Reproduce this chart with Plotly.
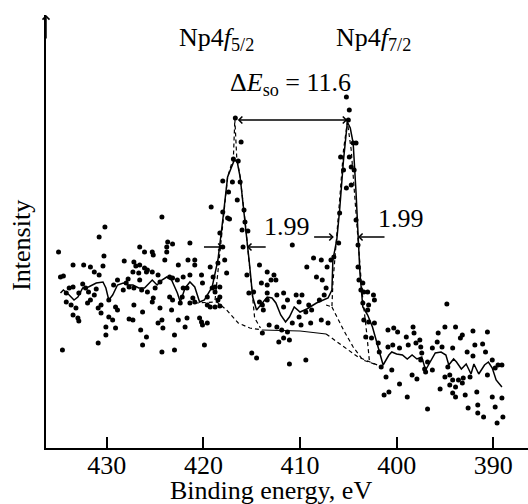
import plotly.graph_objects as go

# ---------------- data (binding energy in eV, intensity in arbitrary units) ----------------
dots_left = [(430.8,211),(430.2,221),(435.0,196),(430.3,192),(433.5,183),(432.4,183),(431.7,181),(430.4,182),
             (431.3,176),(430.8,173),(428.2,187),(427.2,186),(427.0,182),(427.3,176),(426.7,175),(434.8,171),
             (434.5,172),(428.9,168),(427.8,169),(429.3,163),(428.0,165),(433.5,161),(433.9,160),(432.5,164),
             (432.2,160),(431.9,156),(434.2,155),(432.9,155),(431.3,153),(431.1,159),(428.3,158),(427.7,161),
             (427.2,160),(434.2,146),(433.7,143),(433.2,140),(432.0,145),(431.7,148),(429.8,148),(429.1,141),
             (430.6,143),(430.9,140),(433.5,133),(433.0,130),(432.9,127),(430.6,135),(429.8,131),(429.4,128),
             (428.9,138),(427.7,129),(427.3,128),(427.2,143),(430.1,121),(429.1,120),(430.1,113),(426.5,118),
             (430.9,105),(434.6,98)]

dots_mid_left = [(424.3,231),(419.2,241),(418.0,236),(418.3,215),(417.5,230),(421.4,205),(423.7,206),(423.2,204),
                 (423.8,201),(423.8,196),(426.6,201),(426.1,196),(425.3,196),(425.2,193),(424.0,188),(421.6,188),
                 (420.9,188),(420.9,183),(422.6,183),(419.3,181),(418.5,185),(417.8,188),(417.6,175),(426.6,183),
                 (426.1,180),(425.8,178),(425.9,176),(425.3,176),(424.7,173),(423.5,171),(423.2,170),(422.1,171),
                 (421.4,173),(420.2,173),(426.6,168),(424.5,166),(425.0,160),(422.7,168),(421.7,160),(422.1,160),
                 (420.1,165),(419.1,160),(418.8,161),(426.4,158),(425.8,156),(425.2,150),(425.3,146),(423.5,151),
                 (423.2,148),(422.2,151),(421.1,150),(420.9,146),(421.4,145),(419.6,151),(418.3,151),(418.5,148),
                 (419.6,143),(419.3,141),(418.8,141),(418.3,142),(426.3,136),(424.5,140),(423.3,138),(422.4,145),
                 (420.4,130),(420.2,126),(420.1,123),(424.3,128),(424.7,125),(424.2,120),(422.6,128),(421.7,130),
                 (421.9,121),(423.0,113),(425.9,111),(426.3,103),(424.3,96),(423.0,98),(419.9,103),
                 (419.0,171),(418.3,161),(418.8,156),(419.6,125)]

dots_peak52 = [(416.7,330),(416.1,306),(416.9,289),(416.4,287),(418.0,267),(417.0,266),(416.2,266),(417.4,256),
               (416.5,248),(417.3,229),(415.8,238),(415.7,226),(416.0,218),(415.4,217),(415.5,173),(415.3,155),
               (414.8,156),(414.2,183),(413.4,176),(413.0,168),(412.7,173),(412.5,168),(414.0,165),(413.4,155),
               (412.4,153),(411.7,155),(410.8,203),(410.4,153),(409.8,153),(409.3,181),(408.6,190),(407.8,188),
               (408.3,171),(407.7,168),(407.3,160),(407.2,181),(406.8,188),(410.1,146),(409.1,143),(409.4,136),
               (408.8,138),(408.0,148),(407.5,153),(411.3,148),(411.7,141),(414.2,146),(413.9,143),(413.4,148),
               (413.2,123),(413.9,115),(412.4,121),(411.9,118),(411.3,116),(411.7,110),(412.2,106),(411.1,108),
               (410.1,131),(409.9,123),(408.9,125),(407.8,128),(410.8,125),(415.0,95),(414.5,90),(411.1,84),
               (409.4,88),(407.1,125),(418.0,201),(415.9,201),(413.4,163),(413.8,138)]

dots_peak72 = [(405.2,351),(404.9,338),(405.0,328),(404.5,305),(404.2,305),(405.8,291),(404.9,291),(405.5,278),
               (404.7,281),(404.4,278),(405.2,260),(404.7,263),(405.9,235),(404.2,228),(406.0,205),(404.0,203),
               (406.5,191),(404.0,181),(403.9,168),(403.7,158),(403.5,165),(403.4,156),(403.0,156),(402.4,153),
               (402.3,148),(403.5,145),(402.9,143),(403.0,138),(403.4,128),(402.9,126),(402.3,125),(403.2,111),
               (402.6,110),(401.9,105),(400.9,118),(400.3,120),(399.9,116),(398.3,121),(399.0,111),(398.2,115),
               (400.9,101),(400.4,103),(399.7,100),(398.8,103),(398.0,105),(397.5,101),(401.8,96),(401.6,81),
               (401.1,71),(400.5,78),(399.7,64),(401.3,53),(400.8,56),(398.9,51),(398.4,73),(397.9,69),
               (397.5,88),(397.1,79),(396.8,39)]

dots_right = [(394.8,144),(395.0,121),(393.9,121),(395.7,115),(392.1,117),(390.6,116),(393.2,113),(393.4,110),
              (391.9,103),(391.1,104),(394.2,100),(390.8,96),(392.7,96),(392.1,92),(397.6,108),(397.4,95),
              (395.8,106),(395.3,101),(396.3,100),(396.8,86),(397.0,76),(396.3,78),(390.1,88),(389.5,83),
              (389.1,83),(389.8,80),(394.7,81),(394.5,73),(395.0,71),(394.2,68),(393.6,68),(393.1,70),
              (392.4,71),(393.2,65),(390.6,73),(394.5,63),(393.9,61),(394.2,55),(393.9,51),(395.5,59),
              (392.9,53),(391.7,56),(390.1,51),(389.1,50),(389.8,41),(392.6,40),(391.6,43),(391.6,35),
              (391.0,31),(389.0,31),(389.6,25)]

# smoothed spectrum (solid line)
fit_energy = [434.8,434.5,433.9,433.4,433.0,432.5,431.9,431.1,430.4,430.1,429.8,429.4,428.9,428.3,427.8,427.3,
              426.7,426.1,425.3,424.8,424.3,423.8,423.3,422.7,422.4,421.9,421.4,420.9,420.4,419.9,419.1,418.5,
              418.0,417.5,416.8,416.5,416.2,415.7,415.2,414.9,414.5,413.9,413.4,412.9,412.5,412.0,411.5,411.1,
              410.6,410.0,409.3,408.3,407.1,406.7,406.6,406.2,405.9,405.5,405.1,404.8,404.5,404.2,404.0,403.8,
              403.5,403.0,402.5,401.9,401.4,400.8,400.5,400.0,399.4,398.9,398.4,397.9,397.4,397.0,396.4,396.0,
              395.4,394.9,394.6,394.1,393.8,393.3,392.8,392.3,392.0,391.5,390.9,390.5,390.1,389.7,389.1]
fit_intensity = [155,158,153,148,151,160,161,165,166,160,148,153,163,165,163,163,
                 160,160,168,163,168,171,168,155,146,160,166,161,146,148,161,188,
                 228,271,288,286,271,228,181,151,138,145,151,150,145,133,126,131,
                 141,136,139,145,150,158,188,208,238,288,326,320,305,255,208,175,
                 141,133,121,101,83,93,96,94,93,89,93,89,91,78,89,95,
                 96,93,83,89,86,79,84,74,84,74,83,86,80,68,61]

# Shirley-type background (dashed / solid / dashed pieces)
bg1_energy = [420.9,418.6,417.6,416.4,415.2,413.9]
bg1_intensity = [145,146,138,125,120,118]
bg2_energy = [413.9,410.0,407.3]
bg2_intensity = [118,117,114]
bg3_energy = [407.3,405.5,404.0,402.0]
bg3_intensity = [114,101,91,83]

# Np4f5/2 component
c52_energy = [418.8,418.0,417.5,416.9,416.75,416.55,416.2,415.7,415.2,414.9,414.7,414.1]
c52_intensity = [148,228,271,290,329,290,271,228,181,151,130,120]

# Np4f7/2 component and its step
c72_energy = [407.3,406.7,406.6,406.3,405.9,405.5,405.1,404.7,404.3,404.0,403.6,403.1,402.8]
c72_intensity = [143,141,165,205,248,298,326,298,248,208,158,115,85]
step72_energy = [406.7,406.2,405.5,404.5,403.5,402.0]
step72_intensity = [141,131,118,101,88,83]

tick_values = [430, 420, 410, 400, 390]
peak52, peak72, peak_level = 416.6, 405.1, 328
fwhm52 = (420.1, 418.0, 415.5, 413.4, 201)
fwhm72 = (408.7, 406.5, 404.0, 401.1, 211)

FONT = "Liberation Serif, Times New Roman, serif"
BLACK = "black"

fig = go.Figure()

all_dots = dots_left + dots_mid_left + dots_peak52 + dots_peak72 + dots_right
fig.add_trace(go.Scatter(x=[p[0] for p in all_dots], y=[p[1] for p in all_dots], mode="markers",
                         marker=dict(color=BLACK, size=5), hoverinfo="skip"))

dash_style = dict(color=BLACK, width=1.2, dash="4px,3px")
for ex, iy, style in [(bg1_energy, bg1_intensity, dash_style),
                      (bg2_energy, bg2_intensity, dict(color=BLACK, width=1.2)),
                      (bg3_energy, bg3_intensity, dash_style),
                      (c52_energy, c52_intensity, dash_style),
                      (c72_energy, c72_intensity, dash_style),
                      (step72_energy, step72_intensity, dash_style)]:
    fig.add_trace(go.Scatter(x=ex, y=iy, mode="lines", line=style, hoverinfo="skip"))

fig.add_trace(go.Scatter(x=fit_energy, y=fit_intensity, mode="lines",
                         line=dict(color=BLACK, width=1.5), hoverinfo="skip"))

annotations = []

def arrow(x_head, x_tail, y, both=False):
    return dict(x=x_head, y=y, ax=x_tail, ay=y, xref="x", yref="y", axref="x", ayref="y",
                text="", showarrow=True, arrowhead=4, arrowsize=0.9, arrowwidth=1.5,
                arrowcolor=BLACK, standoff=0, startstandoff=0,
                arrowside="end+start" if both else "end", startarrowhead=4, startarrowsize=0.9)

annotations.append(arrow(peak72, peak52, peak_level, both=True))
annotations.append(arrow(fwhm52[1], fwhm52[0], fwhm52[4]))
annotations.append(arrow(fwhm52[2], fwhm52[3], fwhm52[4]))
annotations.append(arrow(fwhm72[1], fwhm72[0], fwhm72[4]))
annotations.append(arrow(fwhm72[2], fwhm72[3], fwhm72[4]))

# y-axis arrow head
annotations.append(dict(x=0, y=1, xref="paper", yref="paper", ax=0, ay=25, axref="pixel", ayref="pixel",
                        text="", showarrow=True, arrowhead=4, arrowsize=0.9, arrowwidth=1.5,
                        arrowcolor=BLACK, standoff=0))

tfont = dict(family=FONT, size=26, color=BLACK)
def label(text, x, y):
    return dict(x=x, y=y, xref="x", yref="y", text=text, showarrow=False, font=tfont,
                xanchor="center", yanchor="middle")

annotations.append(label("Np4<i>f</i><sub>5/2</sub>", 418.7, 409))
annotations.append(label("Np4<i>f</i><sub>7/2</sub>", 402.35, 409))
annotations.append(label("Δ<i>E</i><sub>so</sub> = 11.6", 411.0, 364))
annotations.append(label("1.99", 411.3, 222))
annotations.append(label("1.99", 399.5, 230))

annotations.append(dict(x=-0.05, y=0.469, xref="paper", yref="paper", text="Intensity", showarrow=False,
                        textangle=-90, font=tfont, xanchor="center", yanchor="middle"))
annotations.append(dict(x=0.467, y=-0.099, xref="paper", yref="paper", text="Binding energy, eV",
                        showarrow=False, font=tfont, xanchor="center", yanchor="middle"))

fig.update_layout(
    width=528, height=504,
    margin=dict(l=46, r=0, t=15, b=56, autoexpand=False),
    paper_bgcolor="white", plot_bgcolor="white",
    showlegend=False,
    annotations=annotations,
    font=dict(family=FONT, color=BLACK),
    xaxis=dict(range=[436.3, 386.4], showline=True, linecolor=BLACK, linewidth=1.5,
               ticks="inside", ticklen=11, tickwidth=1.5, tickcolor=BLACK,
               tickvals=tick_values, ticktext=[str(v) for v in tick_values],
               tickfont=tfont, showgrid=False, zeroline=False, automargin=False,
               ticklabelstandoff=-7),
    yaxis=dict(range=[0, 433], showline=True, linecolor=BLACK, linewidth=1.5,
               showticklabels=False, ticks="", showgrid=False, zeroline=False, automargin=False),
)

fig.write_html("out.html", config={"displayModeBar": False},
               post_script="document.body.style.margin='0';")
